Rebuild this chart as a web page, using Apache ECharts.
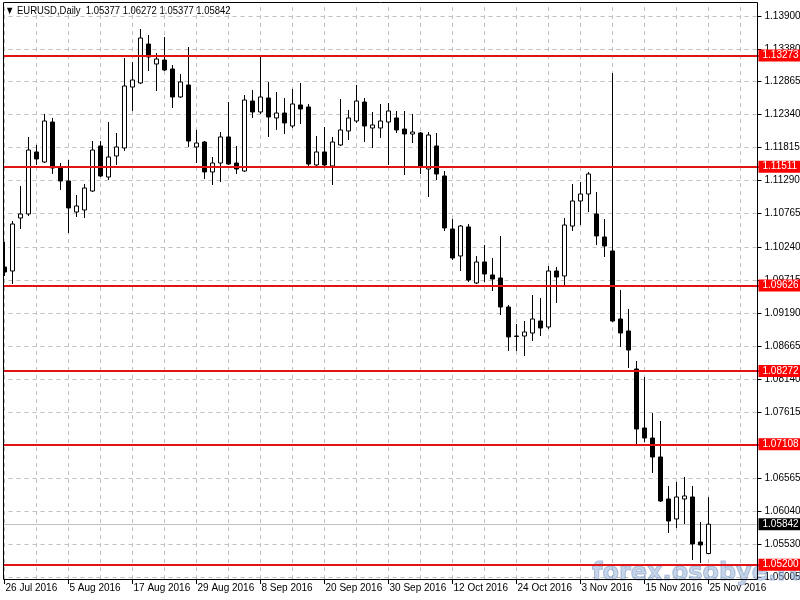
<!DOCTYPE html>
<html>
<head>
<meta charset="utf-8">
<script src="https://cdn.jsdelivr.net/npm/echarts@6/dist/echarts.min.js"></script>
<style>html,body{margin:0;padding:0;background:#fff}#c{width:800px;height:600px}</style>
</head>
<body>
<div id="c"></div>
<script>
var dates = ['26 Jul 2016','27 Jul 2016','28 Jul 2016','29 Jul 2016',
'1 Aug 2016','2 Aug 2016','3 Aug 2016','4 Aug 2016','5 Aug 2016','8 Aug 2016','9 Aug 2016','10 Aug 2016','11 Aug 2016','12 Aug 2016','15 Aug 2016','16 Aug 2016','17 Aug 2016','18 Aug 2016','19 Aug 2016','22 Aug 2016','23 Aug 2016','24 Aug 2016','25 Aug 2016','26 Aug 2016','29 Aug 2016','30 Aug 2016','31 Aug 2016',
'1 Sep 2016','2 Sep 2016','5 Sep 2016','6 Sep 2016','7 Sep 2016','8 Sep 2016','9 Sep 2016','12 Sep 2016','13 Sep 2016','14 Sep 2016','15 Sep 2016','16 Sep 2016','19 Sep 2016','20 Sep 2016','21 Sep 2016','22 Sep 2016','23 Sep 2016','26 Sep 2016','27 Sep 2016','28 Sep 2016','29 Sep 2016','30 Sep 2016',
'3 Oct 2016','4 Oct 2016','5 Oct 2016','6 Oct 2016','7 Oct 2016','10 Oct 2016','11 Oct 2016','12 Oct 2016','13 Oct 2016','14 Oct 2016','17 Oct 2016','18 Oct 2016','19 Oct 2016','20 Oct 2016','21 Oct 2016','24 Oct 2016','25 Oct 2016','26 Oct 2016','27 Oct 2016','28 Oct 2016','31 Oct 2016',
'1 Nov 2016','2 Nov 2016','3 Nov 2016','4 Nov 2016','7 Nov 2016','8 Nov 2016','9 Nov 2016','10 Nov 2016','11 Nov 2016','14 Nov 2016','15 Nov 2016','16 Nov 2016','17 Nov 2016','18 Nov 2016','21 Nov 2016','22 Nov 2016','23 Nov 2016','24 Nov 2016','25 Nov 2016'];

var openP = [1.09920,1.09857,1.10697,1.10761,1.11744,1.11585,1.12219,1.11490,1.11284,1.10792,
1.10824,1.11125,1.11839,1.11347,1.11680,1.11807,1.12774,1.12838,1.13456,1.13139,
1.13202,1.13060,1.12616,1.12806,1.11823,1.11902,1.11427,1.11569,1.11982,1.11569,
1.11442,1.12552,1.12378,1.12600,1.12283,1.12362,1.12156,1.12489,1.12457,1.11538,
1.11744,1.11522,1.11855,1.12077,1.12235,1.12536,1.12124,1.12124,1.12219,1.12283,
1.12108,1.12029,1.12045,1.11474,1.11839,1.11363,1.10523,1.10095,1.10555,1.09667,
1.10000,1.09794,1.09746,1.09286,1.08826,1.08826,1.08874,1.09064,1.08969,1.09857,
1.09778,1.10570,1.10967,1.11078,1.10761,1.10396,1.10174,1.09096,1.08906,1.08303,
1.07368,1.07209,1.06908,1.06242,1.05925,1.06242,1.06274,1.05560,1.05377];

var closeP = [1.09841,1.10602,1.10761,1.11775,1.11633,1.12235,1.11490,1.11284,1.10856,1.10888,
1.11173,1.11775,1.11363,1.11664,1.11823,1.12790,1.12885,1.13551,1.13250,1.13218,
1.13044,1.12616,1.12854,1.11918,1.11886,1.11427,1.11569,1.11982,1.11553,1.11474,
1.12568,1.12378,1.12616,1.12299,1.12362,1.12204,1.12505,1.12425,1.11553,1.11744,
1.11538,1.11902,1.12093,1.12283,1.12552,1.12156,1.12172,1.12235,1.12394,1.12093,
1.12029,1.12061,1.11506,1.12013,1.11395,1.10539,1.10063,1.10570,1.09714,1.10000,
1.09809,1.09730,1.09286,1.08811,1.08820,1.08890,1.09096,1.08953,1.09857,1.09762,
1.10586,1.10967,1.11078,1.11395,1.10412,1.10253,1.09064,1.08874,1.08604,1.07352,
1.07209,1.06908,1.06210,1.05893,1.06274,1.06290,1.05529,1.05513,1.05842];

var lowP = [1.09778,1.09651,1.10523,1.10729,1.11538,1.11569,1.11395,1.11141,1.10459,1.10713,
1.10697,1.11110,1.11347,1.11300,1.11538,1.11760,1.12394,1.12822,1.13028,1.12711,
1.13028,1.12441,1.12600,1.11823,1.11569,1.11316,1.11221,1.11268,1.11538,1.11395,
1.11427,1.12283,1.12346,1.11982,1.12093,1.12029,1.12124,1.12188,1.11506,1.11522,
1.11506,1.11221,1.11839,1.11934,1.12204,1.11902,1.11807,1.11966,1.11538,1.12045,
1.11379,1.11886,1.11395,1.11030,1.11300,1.10491,1.10031,1.09857,1.09683,1.09651,
1.09683,1.09540,1.09159,1.08589,1.08589,1.08509,1.08747,1.08826,1.08937,1.09350,
1.09603,1.10491,1.10586,1.10792,1.10269,1.10079,1.09048,1.08652,1.08319,1.07114,
1.07146,1.06654,1.06194,1.05703,1.05782,1.05846,1.05275,1.05227,1.05377];

var highP = [1.10317,1.10650,1.11205,1.11982,1.11855,1.12346,1.12283,1.11569,1.11617,1.11062,
1.11236,1.11918,1.11918,1.12219,1.12045,1.13234,1.13171,1.13694,1.13599,1.13313,
1.13567,1.13123,1.12980,1.13408,1.12093,1.11918,1.11664,1.12061,1.12536,1.11839,
1.12647,1.12727,1.13266,1.12854,1.12695,1.12600,1.12743,1.12838,1.12505,1.11997,
1.12140,1.11982,1.12584,1.12410,1.12806,1.12600,1.12378,1.12505,1.12521,1.12394,
1.12394,1.12346,1.12061,1.12061,1.12045,1.11442,1.10681,1.10586,1.10602,1.10095,
1.10269,1.10063,1.10412,1.09318,1.09017,1.09064,1.09476,1.09429,1.09936,1.09920,
1.10697,1.11236,1.11268,1.11427,1.11110,1.10681,1.12996,1.09556,1.09255,1.08430,
1.08176,1.07606,1.07479,1.06448,1.06512,1.06591,1.06448,1.05877,1.06272];

var levels = [1.13273, 1.11511, 1.09626, 1.08272, 1.07108, 1.05200];
var lastPrice = 1.05842;
var yTicks = [1.13900,1.13380,1.12865,1.12340,1.11815,1.11290,1.10765,1.10240,1.09715,1.09190,
1.08665,1.08140,1.07615,1.07090,1.06565,1.06040,1.05530,1.05005];
var titleText = '\u25BC EURUSD,Daily  1.05377 1.06272 1.05377 1.05842';
var watermark = 'forex.osobye.ru';

var EMPTY_SLOTS = 6;
var cats = dates.concat(new Array(EMPTY_SLOTS).fill(''));
var candleData = openP.map(function (o, i) { return [o, closeP[i], lowP[i], highP[i]]; });
var vGrid = [];
for (var k = 0; k < cats.length; k += 4) vGrid.push({ xAxis: k });

var F = "'Liberation Sans',Arial,sans-serif";
var FS = 10;
var chart = echarts.init(document.getElementById('c'), null, { renderer: 'canvas' });
chart.setOption({
  animation: false,
  backgroundColor: '#ffffff',
  grid: { left: 0.5, width: 760, top: 3, bottom: 21, containLabel: false, outerBoundsMode: 'none' },
  xAxis: {
    type: 'category', data: cats, boundaryGap: true,
    axisLine: { show: false },
    axisTick: { show: true, interval: 7, alignWithLabel: true, length: 5, lineStyle: { color: '#000' } },
    axisLabel: { interval: 7, align: 'left', margin: 4, padding: [0, 0, 0, 1], color: '#000', fontSize: FS, fontFamily: F },
    splitLine: { show: false }
  },
  yAxis: {
    type: 'value', position: 'right', offset: -3, min: 1.049734, max: 1.141061,
    axisLine: { show: false },
    axisTick: { show: true, customValues: yTicks, length: 4, lineStyle: { color: '#000' } },
    axisLabel: { customValues: yTicks, margin: 7, color: '#000', fontSize: FS, fontFamily: F,
      formatter: function (v) { return v.toFixed(5); } },
    splitLine: { show: false }
  },
  series: [
    {
      type: 'line', data: [], z: 1, silent: true,
      markLine: {
        z: 1, silent: true, symbol: ['none', 'none'], animation: false, precision: 5,
        label: { show: false },
        lineStyle: { color: '#c0c0c0', type: [4, 4], width: 1 },
        emphasis: { disabled: true },
        data: yTicks.map(function (v) { return { yAxis: v }; }).concat(vGrid)
      }
    },
    {
      type: 'line', data: [], z: 1, silent: true,
      markLine: {
        z: 1, silent: true, symbol: ['none', 'none'], animation: false, precision: 5,
        lineStyle: { color: '#c0c0c0', type: 'solid', width: 1 },
        emphasis: { disabled: true },
        label: { show: true, position: 'end', distance: -2, color: '#fff', backgroundColor: '#000',
          fontSize: FS, fontFamily: F, lineHeight: 11, padding: [1, 8, 0, 4],
          formatter: function (p) { return p.value.toFixed(5); } },
        data: [{ yAxis: lastPrice }]
      }
    },
    {
      type: 'candlestick', data: candleData, z: 3, barWidth: 5,
      itemStyle: { color: '#ffffff', color0: '#000000', borderColor: '#000000', borderColor0: '#000000', borderWidth: 1 }
    },
    {
      type: 'line', data: [], z: 10, silent: true,
      markLine: {
        z: 10, silent: true, symbol: ['none', 'none'], animation: false, precision: 5,
        lineStyle: { color: '#e01414', type: 'solid', width: 2 },
        emphasis: { disabled: true },
        label: { show: true, position: 'end', distance: -2, color: '#fff', backgroundColor: '#ff0000',
          fontSize: FS, fontFamily: F, lineHeight: 11, padding: [1, 8, 0, 4],
          formatter: function (p) { return p.value.toFixed(5); } },
        data: levels.map(function (v) { return { yAxis: v }; })
      }
    }
  ],
  graphic: [
    { type: 'text', z: 2, silent: true, x: 592, y: 562, style: { text: watermark, fill: 'rgba(150,176,215,0.55)', stroke: 'rgba(95,125,175,0.5)', lineWidth: 1, font: 'bold 24px "DejaVu Sans",sans-serif' } },
    { type: 'rect', z: 50, silent: true, shape: { x: 0, y: 0, width: 3, height: 600 }, style: { fill: '#fff' } },
    { type: 'rect', z: 51, silent: true, shape: { x: 3.5, y: 2.5, width: 754, height: 577 }, style: { fill: 'none', stroke: '#000', lineWidth: 1 } },
    { type: 'text', z: 52, silent: true, x: 5, y: 5, scaleX: 0.86, style: { text: titleText, fill: '#000', font: '11px ' + F } }
  ]
});
</script>
</body>
</html>
